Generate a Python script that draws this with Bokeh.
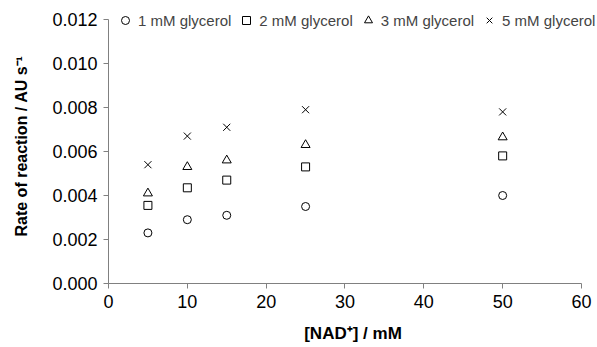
from bokeh.plotting import figure
from bokeh.models import Range1d, FixedTicker, NumeralTickFormatter, Legend, LegendItem
from bokeh.embed import file_html
from bokeh.resources import INLINE

# ---- data ----
nad = [5, 10, 15, 25, 50]
gly1 = [0.0023, 0.0029, 0.0031, 0.0035, 0.0040]
gly2 = [0.00355, 0.00435, 0.0047, 0.0053, 0.0058]
gly3 = [0.0041, 0.0053, 0.0056, 0.0063, 0.00665]
gly5 = [0.0054, 0.0067, 0.0071, 0.0079, 0.0078]
series_labels = ["1 mM glycerol", "2 mM glycerol", "3 mM glycerol", "5 mM glycerol"]
x_ticks = [0, 10, 20, 30, 40, 50, 60]
y_ticks = [0.000, 0.002, 0.004, 0.006, 0.008, 0.010, 0.012]

FONT = "Liberation Sans"
AXIS_COL = "#808080"

p = figure(width=597, height=347, output_backend="svg", toolbar_location=None,
           x_range=Range1d(0, 62.03), y_range=Range1d(0, 0.0125),
           min_border_left=108, min_border_right=0, min_border_top=8, min_border_bottom=64)
p.outline_line_color = None
p.xgrid.visible = False
p.ygrid.visible = False
p.background_fill_color = "white"
p.border_fill_color = "white"

markers = ["circle", "square", "triangle", "x"]
sizes = [8, 8, 9, 10]
rs = []
for ys, m, s in zip([gly1, gly2, gly3, gly5], markers, sizes):
    r = p.scatter(nad, ys, marker=m, size=s, fill_color=None, line_color="black", line_width=1)
    rs.append(r)

for ax in (p.xaxis[0], p.yaxis[0]):
    ax.axis_line_color = AXIS_COL
    ax.major_tick_line_color = AXIS_COL
    ax.minor_tick_line_color = None
    ax.major_tick_in = 0
    ax.major_tick_out = 5
    ax.major_label_text_font = FONT
    ax.major_label_text_font_size = "18px"
    ax.major_label_text_color = "black"
    ax.axis_label_text_font = FONT
    ax.axis_label_text_font_style = "bold"
    ax.axis_label_text_color = "black"

p.xaxis.axis_label_text_font_size = "17px"
p.yaxis.axis_label_text_font_size = "16px"
p.xaxis.ticker = FixedTicker(ticks=x_ticks)
p.yaxis.ticker = FixedTicker(ticks=y_ticks)
p.xaxis.bounds = (0, 60)
p.yaxis.bounds = (0, 0.012)
p.yaxis.formatter = NumeralTickFormatter(format="0.000")
p.xaxis.major_label_standoff = 6
p.yaxis.major_label_standoff = 6
p.xaxis.axis_label = "[NAD\u207a] / mM"
p.yaxis.axis_label = "Rate of reaction / AU s\u207b\u00b9"
p.xaxis.axis_label_standoff = 13
p.yaxis.axis_label_standoff = 19

legend = Legend(items=[LegendItem(label=l, renderers=[r]) for l, r in zip(series_labels, rs)],
                orientation="horizontal", location=(7, 253),
                border_line_color=None, background_fill_alpha=0,
                padding=0, margin=0, spacing=5, label_standoff=3,
                glyph_width=20, glyph_height=20, label_height=14,
                label_text_font=FONT, label_text_font_size="15px")
p.add_layout(legend, "center")

open("out.html", "w").write(file_html(p, INLINE))
